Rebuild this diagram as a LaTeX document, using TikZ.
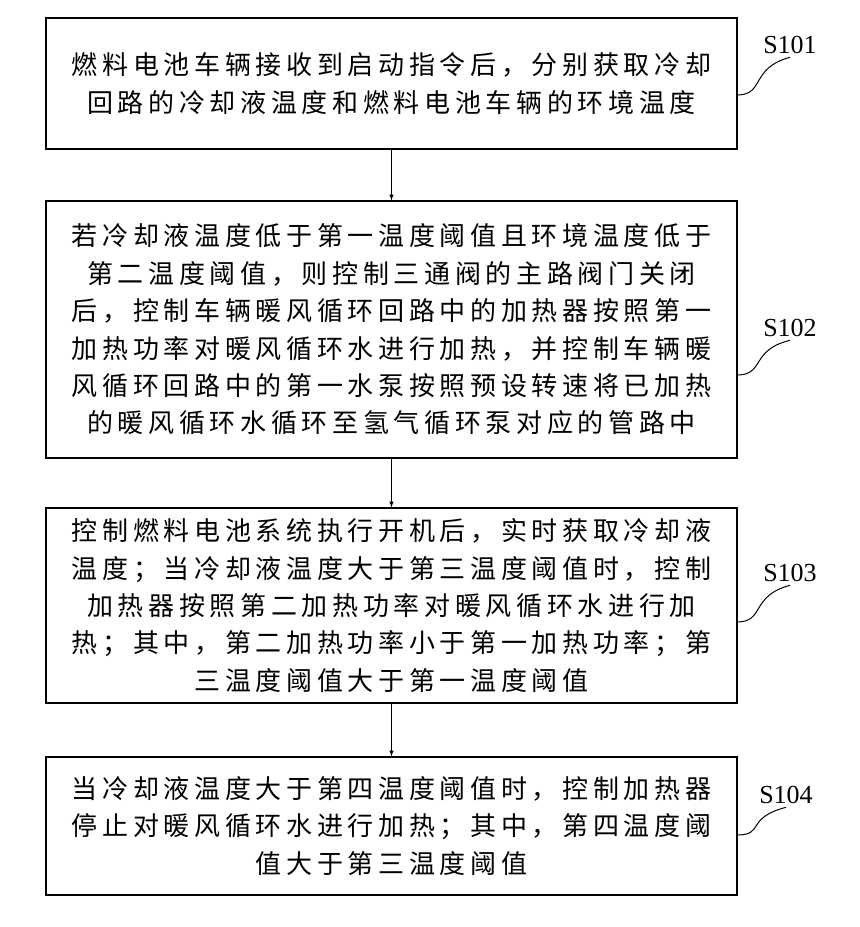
\documentclass[tikz,border=0pt]{standalone}
\usepackage{fontspec}
\setmainfont{Liberation Serif}
\newfontfamily\cjk[LetterSpace=18]{Noto Sans CJK SC}
\begin{document}
\begin{tikzpicture}[x=1pt,y=-1pt,
  stepbox/.style={draw,line width=1.2pt,minimum width=691pt,inner sep=0pt,align=center,font=\cjk\fontsize{26}{37.4}\selectfont},
  lbl/.style={font=\fontsize{26}{28}\selectfont},
  arr/.style={-latex,line width=1pt},
  lead/.style={line width=1pt}]
\useasboundingbox (0,0) rectangle (860,927);
\node[stepbox,minimum height=131pt] (b1) at (391.5,83.5) {燃料电池车辆接收到启动指令后，分别获取冷却\\回路的冷却液温度和燃料电池车辆的环境温度};
\node[stepbox,minimum height=257pt] (b2) at (391.5,329.5) {若冷却液温度低于第一温度阈值且环境温度低于\\第二温度阈值，则控制三通阀的主路阀门关闭\\后，控制车辆暖风循环回路中的加热器按照第一\\加热功率对暖风循环水进行加热，并控制车辆暖\\风循环回路中的第一水泵按照预设转速将已加热\\的暖风循环水循环至氢气循环泵对应的管路中};
\node[stepbox,minimum height=195pt] (b3) at (391.5,605.5) {控制燃料电池系统执行开机后，实时获取冷却液\\温度；当冷却液温度大于第三温度阈值时，控制\\加热器按照第二加热功率对暖风循环水进行加\\热；其中，第二加热功率小于第一加热功率；第\\三温度阈值大于第一温度阈值};
\node[stepbox,minimum height=138pt] (b4) at (391.5,826) {当冷却液温度大于第四温度阈值时，控制加热器\\停止对暖风循环水进行加热；其中，第四温度阈\\值大于第三温度阈值};
\draw[arr] (b1.south) -- (b2.north);
\draw[arr] (b2.south) -- (b3.north);
\draw[arr] (b3.south) -- (b4.north);
\node[lbl] (l1) at (790,45) {S101};
\node[lbl] (l2) at (790,328) {S102};
\node[lbl] (l3) at (790,573) {S103};
\node[lbl] (l4) at (786,795) {S104};
\coordinate (c1) at (737,95); \coordinate (c2) at (737,375);
\coordinate (c3) at (737,622); \coordinate (c4) at (737,835);
\draw[lead] (c1) .. controls (765,95) and (750,68) .. (l1.south);
\draw[lead] (c2) .. controls (765,375) and (750,350) .. (l2.south);
\draw[lead] (c3) .. controls (765,622) and (750,596) .. (l3.south);
\draw[lead] (c4) .. controls (765,835) and (745,818) .. (l4.south);
\end{tikzpicture}
\end{document}
